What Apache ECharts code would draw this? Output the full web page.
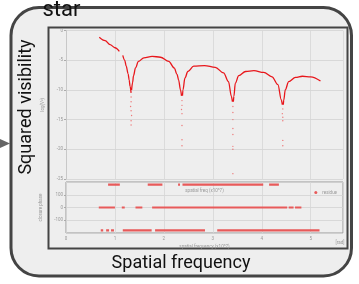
<!DOCTYPE html>
<html>
<head>
    <meta charset="utf-8">
    <script src="https://cdn.jsdelivr.net/npm/echarts@6/dist/echarts.min.js"></script>
</head>
<body style="margin: 0; background: #fff">
<div id="container" style="width: 359px; height: 284px"></div>
<script type="text/javascript">
    // squared visibility arcs (spatial freq, log vis2)
    var arcA = [[0.68, -1.13], [0.80, -1.7], [0.90, -2.37], [1.00, -2.9], [1.09, -3.5]];
    var arcA2 = [[1.16, -4.2], [1.20, -5.0], [1.23, -6.0], [1.27, -7.3], [1.29, -8.3], [1.31, -9.4], [1.33, -10.5]];
    var arcB = [[1.34, -10.0], [1.36, -8.8], [1.38, -7.6], [1.42, -6.3], [1.48, -5.2], [1.59, -4.6], [1.76, -4.34],
        [1.93, -4.5], [2.10, -5.2], [2.21, -6.3], [2.27, -7.4], [2.30, -8.3], [2.34, -10.0], [2.36, -11]];
    var arcC = [[2.38, -11], [2.39, -10.0], [2.43, -8.0], [2.49, -6.9], [2.61, -6.0], [2.83, -5.9], [3.05, -6.2],
        [3.22, -7.15], [3.32, -8.6], [3.38, -11.1], [3.40, -12]];
    var arcD = [[3.42, -12], [3.43, -11.1], [3.46, -8.85], [3.53, -7.6], [3.67, -6.9], [3.84, -6.76], [4.04, -7.05],
        [4.21, -7.8], [4.33, -9.1], [4.40, -11.7], [4.42, -12.5]];
    var arcE = [[4.44, -12.5], [4.45, -11.7], [4.48, -10.0], [4.55, -8.6], [4.69, -7.9], [4.83, -7.7], [5.0, -7.8], [5.20, -8.5]];
    // stray points under the nulls
    var nullDots = [[1.33, -11.2], [1.33, -12], [1.32, -12.8], [1.33, -13.5], [1.34, -14.3], [1.33, -15.2], [1.33, -15.9],
        [2.37, -11.8], [2.37, -12.6], [2.36, -13.3], [2.37, -14], [2.37, -16], [2.37, -18.4], [2.37, -19.4],
        [3.41, -12.8], [3.41, -13.8], [3.41, -15], [3.41, -16.5], [3.41, -17.5], [3.41, -19.5], [3.41, -20], [3.41, -24.1],
        [4.43, -13.2], [4.42, -14], [4.43, -14.6], [4.43, -15.2], [4.43, -18.5], [4.43, -19.4]];
    // residue rows: [from, to] ranges of spatial freq
    var phaseHigh = [[0.86, 1.10], [1.67, 1.97], [2.29, 2.33], [2.38, 4.03], [4.15, 4.35]];
    var phaseZero = [[0.67, 1.0], [1.14, 1.20], [1.42, 1.56], [1.76, 4.52], [4.55, 4.65], [4.68, 4.81]];
    var phaseLow = [[0.71, 0.76], [0.82, 0.88], [0.92, 0.98], [1.16, 1.75], [1.82, 2.84], [3.09, 5.18]];
    var phaseRows = [[180, phaseHigh], [0, phaseZero], [-180, phaseLow]];

    var curve = [];
    [arcA, arcA2, arcB, arcC, arcD, arcE].forEach(function (a) {
        curve = curve.concat(a);
        curve.push(['-', '-']);
    });
    var bands = [];
    phaseRows.forEach(function (row) {
        row[1].forEach(function (s) {
            bands.push([s[0], row[0]], [s[1], row[0]], ['-', '-']);
        });
    });

    var tiny = {fontSize: 4.5, color: '#999', fontFamily: 'Roboto'};
    var myChart = echarts.init(document.getElementById('container'));
    var option = {
        animation: false,
        backgroundColor: '#fff',
        graphic: [
            {type: 'polygon', z: -20, shape: {points: [[0, 139], [10, 143.5], [0, 148]]}, style: {fill: '#666'}},
            {type: 'rect', z: -20, shape: {x: 11, y: 7.5, width: 340.5, height: 268.5, r: 28},
                style: {fill: '#eeeeee', stroke: '#444', lineWidth: 3}},
            {type: 'rect', z: -19, shape: {x: 48.5, y: 27.5, width: 299, height: 221},
                style: {fill: '#eeeeee', stroke: '#444', lineWidth: 2}},
            {type: 'text', z: 50, x: 42.5, y: 10,
                style: {text: 'star', fontSize: 22, fontFamily: 'Roboto', fill: '#111', align: 'left', verticalAlign: 'middle'}},
            {type: 'text', z: 50, x: 26.5, y: 107, rotation: Math.PI / 2,
                style: {text: 'Squared visibility', fontSize: 18, fontFamily: 'Roboto', fill: '#111', align: 'center', verticalAlign: 'middle'}},
            {type: 'text', z: 50, x: 181, y: 263,
                style: {text: 'Spatial frequency', fontSize: 18, fontFamily: 'Roboto', fill: '#111', align: 'center', verticalAlign: 'middle'}},
            {type: 'text', z: 50, x: 340, y: 243,
                style: {text: '[rad]', fontSize: 4.5, fontFamily: 'Roboto', fill: '#999', align: 'center', verticalAlign: 'middle'}}
        ],
        legend: {
            right: 17, top: 185, itemWidth: 3, itemHeight: 3, icon: 'circle',
            textStyle: tiny, data: ['residue']
        },
        grid: [
            {left: 66, right: 16, top: 30.5, height: 148.5},
            {left: 66, right: 16, top: 182, height: 51, show: true, borderColor: '#999', borderWidth: 1}
        ],
        xAxis: [
            {
                gridIndex: 0, type: 'value', min: 0, max: 5.66, interval: 1,
                name: 'spatial freq (x10^7)', nameLocation: 'middle', nameGap: 9, nameTextStyle: tiny,
                axisLine: {show: false}, axisTick: {show: false}, axisLabel: {show: false},
                splitLine: {lineStyle: {color: '#d6d6d6', width: 0.8}}
            },
            {
                gridIndex: 1, type: 'value', min: 0, max: 5.66, interval: 1,
                name: 'spatial frequency (x10^7)', nameLocation: 'middle', nameGap: 11, nameTextStyle: tiny,
                axisLine: {show: false}, axisTick: {show: false},
                axisLabel: Object.assign({margin: 3, formatter: function (v) { return v % 1 === 0 ? v : ''; }}, tiny),
                splitLine: {lineStyle: {color: '#d6d6d6', width: 0.8}}
            }
        ],
        yAxis: [
            {
                gridIndex: 0, type: 'value', min: -25, max: 0, interval: 5,
                name: 'log(V²)', nameLocation: 'middle', nameGap: 13, nameTextStyle: tiny,
                axisLine: {show: true, lineStyle: {color: '#c8c8c8'}},
                axisTick: {show: true, length: 2, lineStyle: {color: '#aaa'}},
                axisLabel: Object.assign({margin: 3}, tiny),
                splitLine: {lineStyle: {color: '#d2d2d2', width: 0.8}}
            },
            {
                gridIndex: 1, type: 'value', min: -200, max: 200, interval: 100,
                name: 'closure phase', nameLocation: 'middle', nameGap: 13, nameTextStyle: tiny,
                axisLine: {show: false}, axisTick: {show: true, length: 2, lineStyle: {color: '#aaa'}},
                axisLabel: Object.assign({margin: 3, showMinLabel: false, showMaxLabel: false}, tiny),
                splitLine: {lineStyle: {color: '#d2d2d2', width: 0.8}}
            }
        ],
        series: [
            {
                name: 'vis2', type: 'line', xAxisIndex: 0, yAxisIndex: 0, data: curve,
                symbol: 'none', smooth: 0.35, smoothMonotone: 'x',
                lineStyle: {color: '#e8161b', width: 1.3}
            },
            {
                name: 'vis2 nulls', type: 'scatter', xAxisIndex: 0, yAxisIndex: 0, data: nullDots,
                symbolSize: 1.4, itemStyle: {color: '#ee5a5a'}
            },
            {
                name: 'residue', type: 'line', xAxisIndex: 1, yAxisIndex: 1, data: bands,
                symbol: 'none', itemStyle: {color: '#e85a5a'},
                lineStyle: {color: '#e85a5a', width: 2.2}
            }
        ]
    };
    myChart.setOption(option);
</script>
</body>
</html>
